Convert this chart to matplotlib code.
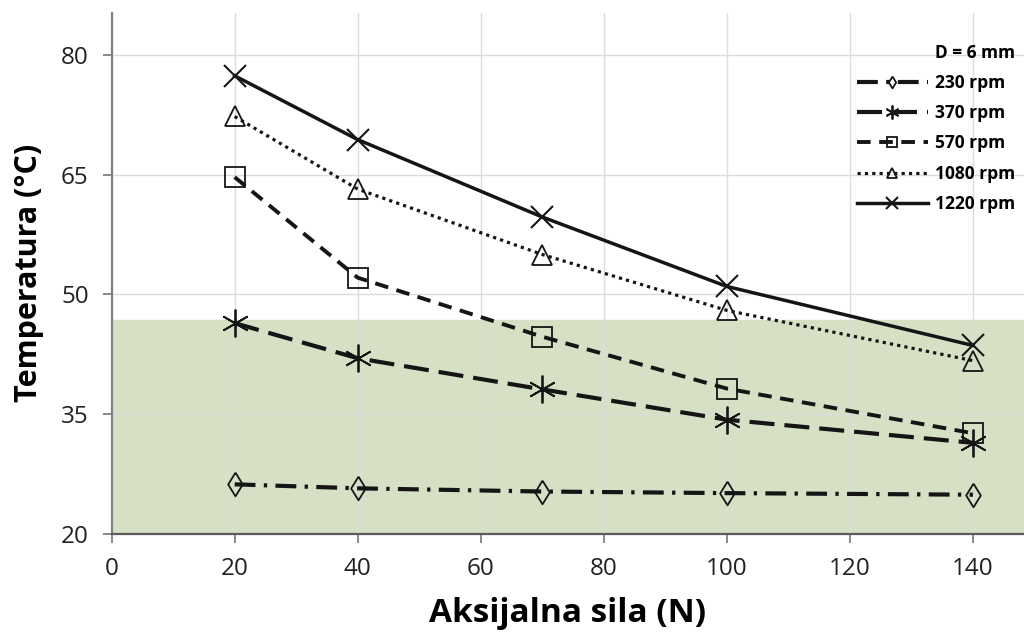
import matplotlib
matplotlib.use("Agg")
import matplotlib.pyplot as plt

# Data
sila = [20, 40, 70, 100, 140]
t_230 = [26.2, 25.7, 25.3, 25.1, 24.9]
t_370 = [46.4, 42.0, 38.1, 34.3, 31.4]
t_570 = [64.7, 52.1, 44.7, 38.2, 32.6]
t_1080 = [72.3, 63.2, 55.0, 48.0, 41.7]
t_1220 = [77.4, 69.4, 59.7, 51.0, 43.6]
labels = ["230 rpm", "370 rpm", "570 rpm", "1080 rpm", "1220 rpm"]
band_top = 46.8

plt.rcParams['font.family'] = ['Open Sans', 'DejaVu Sans']

fig = plt.figure(figsize=(10.24, 6.37), dpi=100)
ax = fig.add_axes([0.109, 0.162, 0.891, 0.818])

ax.axhspan(20, band_top, color='#d6e0c4', zorder=0)

lc = '#151515'
tall_diamond = [(0, 1), (0.62, 0), (0, -1), (-0.62, 0), (0, 1)]
ax.plot(sila, t_230, color=lc, lw=3, linestyle=(0, (5, 2, 0.8, 2)),
        marker=tall_diamond, ms=17, mfc='none', mec=lc, mew=1.3, label=labels[0])
ax.plot(sila, t_370, color=lc, lw=3, linestyle=(0, (6, 2.4)),
        marker=(6, 2, 0), ms=20, mec=lc, mew=1.3, label=labels[1])
ax.plot(sila, t_570, color=lc, lw=2.8, linestyle=(0, (3.5, 2.2)),
        marker='s', ms=15, mfc='none', mec=lc, mew=1.3, label=labels[2])
ax.plot(sila, t_1080, color=lc, lw=2.3, linestyle=(0, (1, 1.3)),
        marker='^', ms=14, mfc='none', mec=lc, mew=1.3, label=labels[3])
ax.plot(sila, t_1220, color=lc, lw=2.5, linestyle='-',
        marker='x', ms=16, mec=lc, mew=1.5, label=labels[4])

ax.set_xlim(0, 148.3)
ax.set_ylim(20, 85.3)
ax.set_xticks([0, 20, 40, 60, 80, 100, 120, 140])
ax.set_yticks([20, 35, 50, 65, 80])
ax.grid(True, color='#dcdcdc', lw=1)
ax.set_axisbelow(True)

for s in ['top', 'right']:
    ax.spines[s].set_visible(False)
ax.spines['left'].set_color('#808080')
ax.spines['bottom'].set_color('#5a5a5a')
ax.spines['left'].set_linewidth(1.6)
ax.spines['bottom'].set_linewidth(1.6)
ax.tick_params(axis='both', labelsize=17.5, color='#808080', length=6.5, width=1.3,
               labelcolor='#222222')
ax.tick_params(axis='x', pad=10)
ax.tick_params(axis='y', pad=10)

ax.set_xlabel('Aksijalna sila (N)', fontsize=24, fontweight='bold', labelpad=12)
ax.set_ylabel('Temperatura (°C)', fontsize=22, fontweight='bold', labelpad=12)

leg = ax.legend(title='D = 6 mm', loc='upper right',
                bbox_to_anchor=(1015 / 1024, 1 - 44 / 637), bbox_transform=fig.transFigure,
                borderaxespad=0, borderpad=0, frameon=False,
                fontsize=12.5, title_fontsize=12.5,
                handlelength=4.1, handletextpad=0.4, labelspacing=0.7,
                markerscale=0.5, alignment='right')
leg.get_title().set_fontweight('bold')
for t in leg.get_texts():
    t.set_fontweight('bold')

fig.savefig('out.png', dpi=100)
